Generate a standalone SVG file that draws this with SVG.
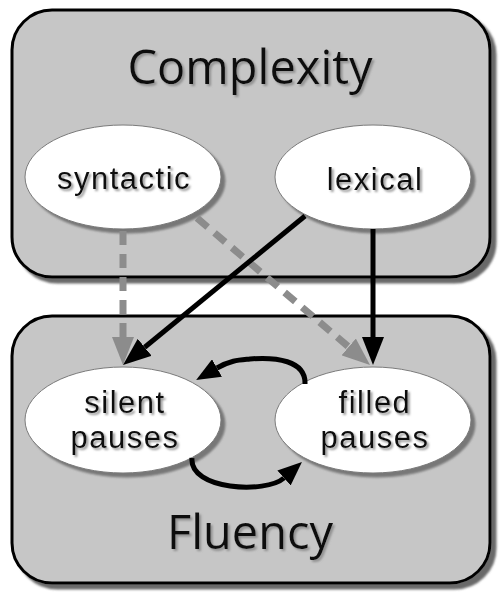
<svg xmlns="http://www.w3.org/2000/svg" width="503" height="600" viewBox="0 0 503 600">
<defs>
<style>
.box{fill:#c6c6c6;stroke:#000;stroke-width:3;filter:url(#boxsh)}
.node{fill:#fff;stroke:#7a7a7a;stroke-width:1;filter:url(#nodesh)}
.title{font-family:"Open Sans","Noto Sans",sans-serif;font-size:47px;fill:#111;text-anchor:middle;filter:url(#txtsh)}
.lbl{font-family:"Liberation Sans",Arial,sans-serif;font-size:31px;letter-spacing:1.5px;fill:#111;text-anchor:middle;filter:url(#txtsh)}
.blk{fill:none;stroke:#000;stroke-width:5}
.gry{fill:none;stroke:#8c8c8c;stroke-width:7;stroke-dasharray:14 9}
</style>
<filter id="boxsh" x="-5%" y="-5%" width="115%" height="115%">
<feDropShadow dx="5" dy="5" stdDeviation="1" flood-color="#5a5a5a" flood-opacity="0.9"/>
</filter>
<filter id="nodesh" x="-10%" y="-10%" width="125%" height="130%">
<feDropShadow dx="4" dy="4" stdDeviation="1" flood-color="#6e6e6e" flood-opacity="0.9"/>
</filter>
<filter id="txtsh" x="-10%" y="-20%" width="120%" height="150%">
<feDropShadow dx="2" dy="2" stdDeviation="0.9" flood-color="#8a8a8a" flood-opacity="0.9"/>
</filter>
<marker id="ab" markerUnits="userSpaceOnUse" viewBox="0 0 28 22" markerWidth="28" markerHeight="22" refX="0" refY="11" orient="auto">
<path d="M0,0 L28,11 L0,22 z" fill="#000"/>
</marker>
<marker id="ag" markerUnits="userSpaceOnUse" viewBox="0 0 28 22" markerWidth="28" markerHeight="22" refX="0" refY="11" orient="auto">
<path d="M0,0 L28,11 L0,22 z" fill="#8c8c8c"/>
</marker>
<marker id="ac" markerUnits="userSpaceOnUse" viewBox="0 0 24 20" markerWidth="24" markerHeight="20" refX="0" refY="10" orient="auto">
<path d="M0,0 L24,10 L0,20 z" fill="#000"/>
</marker>
</defs>
<rect width="503" height="600" fill="#fff"/>
<g id="complexity">
<rect class="box" x="12" y="10" width="478" height="267" rx="40" ry="40"/>
<text class="title" x="250" y="84">Complexity</text>
</g>
<g id="fluency">
<rect class="box" x="12" y="316" width="478" height="267" rx="40" ry="40"/>
<text class="title" x="250" y="549">Fluency</text>
</g>
<g id="syntactic">
<ellipse class="node" cx="123" cy="177" rx="98" ry="52"/>
<text class="lbl" x="124" y="189">syntactic</text>
</g>
<g id="lexical">
<ellipse class="node" cx="373" cy="177" rx="98" ry="52"/>
<text class="lbl" x="375" y="190">lexical</text>
</g>
<g id="silent-pauses">
<ellipse class="node" cx="123" cy="420" rx="98" ry="53"/>
<text class="lbl" x="125" y="413">silent<tspan x="125" dy="35">pauses</tspan></text>
</g>
<g id="filled-pauses">
<ellipse class="node" cx="373" cy="420" rx="98" ry="53"/>
<text class="lbl" x="375" y="413">filled<tspan x="375" dy="35">pauses</tspan></text>
</g>
<g id="connectors">
<path class="gry" d="M123,231 L123,337" marker-end="url(#ag)"/>
<path class="gry" d="M197,218 L348.7,346.9" marker-end="url(#ag)"/>
<path class="blk" d="M305,216 L144.7,347.3" marker-end="url(#ab)"/>
<path class="blk" d="M373,229 L373,337" marker-end="url(#ab)"/>
<path class="blk" d="M305,384 C306,360 275,357 250,359 C240,360 231,360 217,368" marker-end="url(#ac)"/>
<path class="blk" d="M192,458 C189,490 266,494 284,478" marker-end="url(#ac)"/>
</g>
</svg>
